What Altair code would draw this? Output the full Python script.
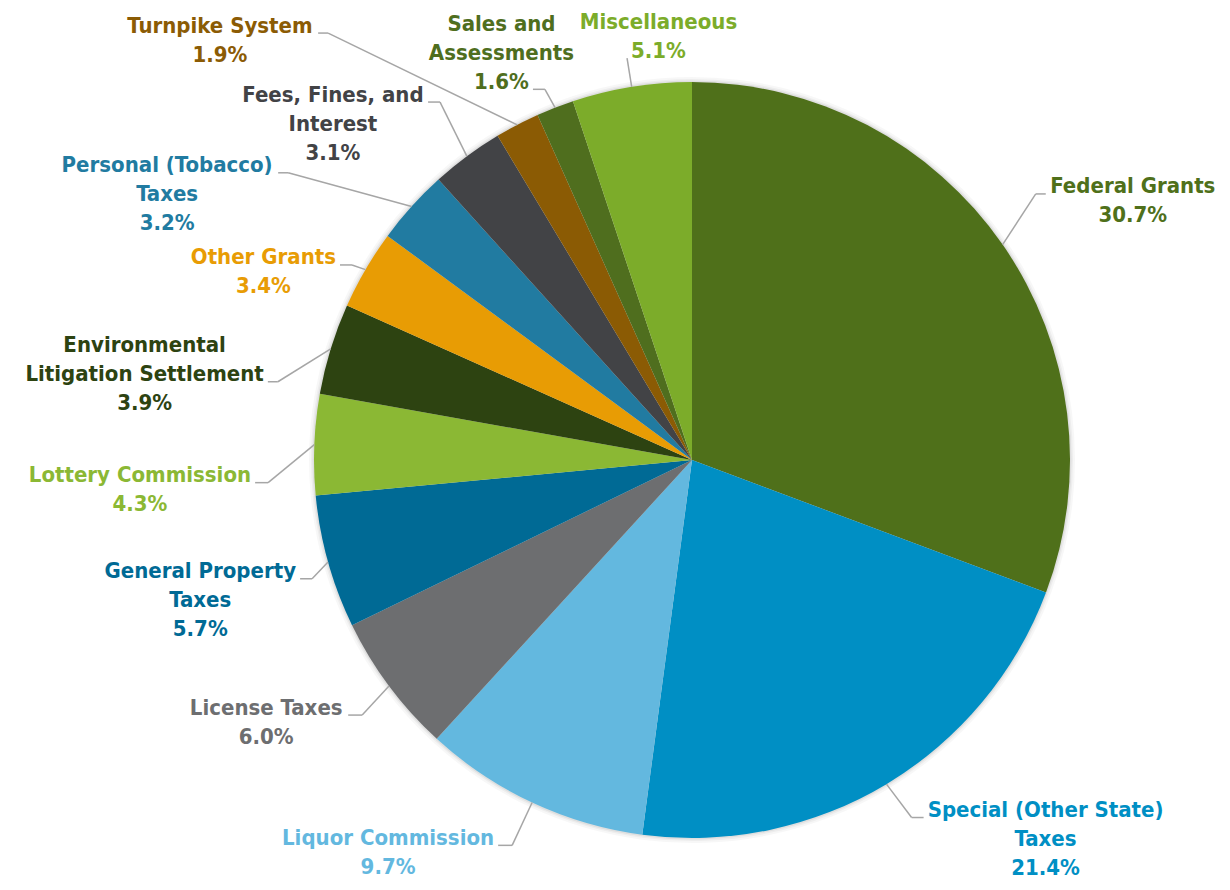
import altair as alt
import pandas as pd

# ---------------- data ----------------
categories = [
    "Federal Grants", "Special (Other State) Taxes", "Liquor Commission", "License Taxes",
    "General Property Taxes", "Lottery Commission", "Environmental Litigation Settlement",
    "Other Grants", "Personal (Tobacco) Taxes", "Fees, Fines, and Interest",
    "Turnpike System", "Sales and Assessments", "Miscellaneous",
]
label_names = [
    "Federal Grants", "Special (Other State)\nTaxes", "Liquor Commission", "License Taxes",
    "General Property\nTaxes", "Lottery Commission", "Environmental\nLitigation Settlement",
    "Other Grants", "Personal (Tobacco)\nTaxes", "Fees, Fines, and\nInterest",
    "Turnpike System", "Sales and\nAssessments", "Miscellaneous",
]
shares = [30.7, 21.4, 9.7, 6.0, 5.7, 4.3, 3.9, 3.4, 3.2, 3.1, 1.9, 1.6, 5.1]

# ---------------- styles ----------------
colors = [
    "#4F701A", "#008FC4", "#63B8DF", "#6D6E70", "#006A95", "#8BB834", "#2D4311",
    "#E89C04", "#217BA1", "#424346", "#8B5B04", "#4F6E1E", "#7CAC2A",
]

# label layout (Excel-style leader placement): elbow radius factor, angle nudge (deg),
# which label line the leader attaches to (0 first, 0.5 middle, 1 last), side, stub length
label_k = [1.150, 1.110, 1.125, 1.103, 1.053, 1.123, 1.115, 1.037, 1.311, 1.158, 1.484, 1.055, 1.077]
label_dtheta = [-3.0, -0.6, 0.0, -1.0, -1.7, -5.4, -6.4, -0.4, -6.7, 1.4, -12.9, -0.4, 0.0]
label_attach = [0, 0, 0, 0, 0, 0, 0.5, 0, 0, 0, 0, 1, 1]
label_side = [1, 1, -1, -1, -1, -1, -1, -1, -1, -1, -1, -1, 1]
label_stub = [10, 12, 14, 14, 12, 13, 10, 12, 10, 12, 10, 12, 0]

R = 378.0          # pie radius (px)
W, H = 1060, 844   # plot area
FS = 22            # font size
LH = 29            # line height
GAP = 4
OFF = 8
FONT = "DejaVu Sans Condensed, DejaVu Sans"
COND = 0.9

# approximate DejaVu Sans Bold advance widths (em/1000) for estimating label widths
CW = {
    " ": 348, "a": 675, "b": 716, "c": 593, "d": 716, "e": 678, "f": 435, "g": 716, "h": 712,
    "i": 343, "j": 343, "k": 665, "l": 343, "m": 1042, "n": 712, "o": 687, "p": 716, "q": 716,
    "r": 493, "s": 595, "t": 478, "u": 712, "v": 650, "w": 918, "x": 663, "y": 652, "z": 585,
    "A": 774, "B": 762, "C": 734, "D": 830, "E": 683, "F": 683, "G": 821, "H": 837, "I": 372,
    "L": 637, "M": 995, "O": 850, "P": 733, "S": 720, "T": 682, "%": 1002, "(": 457, ")": 457,
    ",": 380, ".": 380,
}


def text_width(s):
    return sum(CW.get(c, 696 if c.isdigit() else 650) for c in s) / 1000.0 * FS * COND


rows = []
for i, (cat, name, v) in enumerate(zip(categories, label_names, shares)):
    lines = name.split("\n") + [f"{v:.1f}%"]
    n = len(lines)
    attached = lines[int(round(label_attach[i] * (n - 1)))]
    rows.append(dict(
        idx=i, category=cat, value=v, label="\n".join(lines), nlines=n,
        halfw=text_width(attached) / 2.0, k=label_k[i], dth=label_dtheta[i],
        attach=label_attach[i], side=label_side[i], stub=label_stub[i],
    ))
df = pd.DataFrame(rows)

color_scale = alt.Scale(domain=categories, range=colors)
xs = alt.Scale(domain=[-W / 2 / R, W / 2 / R], nice=False, zero=False)
ys = alt.Scale(domain=[-H / 2 / R, H / 2 / R], nice=False, zero=False)

base = alt.Chart(df)

shadow = alt.layer(*[
    base.mark_arc(outerRadius=R + d, opacity=op, color="#000000").encode(
        theta=alt.Theta("value:Q", stack=True), order=alt.Order("idx:Q"))
    for d, op in [(5, 0.03), (3, 0.04), (1.5, 0.06)]
])

pie = base.mark_arc(outerRadius=R).encode(
    theta=alt.Theta("value:Q", stack=True),
    order=alt.Order("idx:Q"),
    color=alt.Color("category:N", scale=color_scale, legend=None),
)

geo = (
    base.transform_joinaggregate(total="sum(value)")
    .transform_window(cum="sum(value)", sort=[alt.SortField("idx", order="ascending")], frame=[None, 0])
    .transform_calculate(mid="(datum.cum - datum.value/2) / datum.total * 2 * PI")
    .transform_calculate(ang="datum.mid + datum.dth * PI / 180")
    .transform_calculate(sx="sin(datum.mid)", sy="cos(datum.mid)")
    .transform_calculate(ex="datum.k * sin(datum.ang)", ey="datum.k * cos(datum.ang)")
    .transform_calculate(tx=f"datum.ex + datum.side * datum.stub / {R}")
    .transform_calculate(
        lx=f"datum.ex + datum.side * (datum.stub + {GAP} + datum.halfw) / {R}",
        ly=f"datum.ey + ({OFF} + datum.attach * (datum.nlines - 1) * {LH}) / {R}",
    )
)

leader1 = geo.mark_rule(color="#A6A6A6", strokeWidth=1.5).encode(
    x=alt.X("sx:Q", scale=xs, axis=None), y=alt.Y("sy:Q", scale=ys, axis=None),
    x2="ex:Q", y2="ey:Q",
)
leader2 = geo.mark_rule(color="#A6A6A6", strokeWidth=1.5).encode(
    x=alt.X("ex:Q", scale=xs, axis=None), y=alt.Y("ey:Q", scale=ys, axis=None),
    x2="tx:Q", y2="ey:Q",
)
labels = geo.mark_text(
    align="center", baseline="top", dy=-9.5, lineBreak="\n", font=FONT,
    fontSize=FS, fontWeight="bold", lineHeight=LH,
).encode(
    x=alt.X("lx:Q", scale=xs, axis=None), y=alt.Y("ly:Q", scale=ys, axis=None),
    text="label:N",
    color=alt.Color("category:N", scale=color_scale, legend=None),
)

chart = alt.layer(shadow, pie, leader1, leader2, labels).properties(
    width=W, height=H,
    padding={"left": 154, "top": 30, "right": 0, "bottom": 0},
    autosize=alt.AutoSizeParams(type="none"),
    background="white",
).configure_view(stroke=None)

chart.save("out.html", embed_options={"renderer": "svg", "actions": False})
